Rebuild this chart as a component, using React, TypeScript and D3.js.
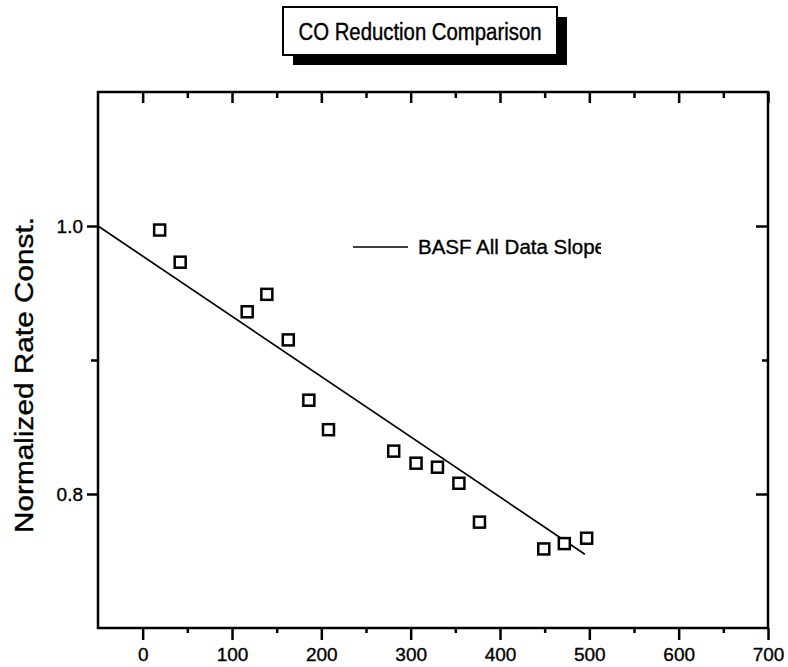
import React, { useEffect, useRef } from "react";
import * as d3 from "d3";

const xValues = [19, 42, 117, 139, 163, 186, 208, 281, 306, 330, 354, 377, 449, 472, 497];
const yValues = [0.997, 0.973, 0.936, 0.949, 0.915, 0.870, 0.848, 0.832, 0.823, 0.820, 0.808, 0.779, 0.759, 0.763, 0.767];
const fitX = [-50, 495];
const fitY = [1.0, 0.755];
const xMajorTicks = [0, 100, 200, 300, 400, 500, 600, 700];
const xMinorTicks = [50, 150, 250, 350, 450, 550, 650];
const yMajorTicks = [0.8, 1.0];
const yMinorTicks = [0.9];
const title = "CO Reduction Comparison";
const yTitle = "Normalized Rate Const.";
const legendLabel = "BASF All Data Slope";

const W = 788;
const H = 667;
const L = 98, R = 768, T = 92, B = 628;
const FONT = "'Liberation Sans', Arial, Helvetica, sans-serif";

export default function App() {
  const ref = useRef<SVGSVGElement | null>(null);

  useEffect(() => {
    const svg = d3.select(ref.current);
    svg.selectAll("*").remove();
    const x = d3.scaleLinear().domain([-50, 700]).range([L, R]);
    const y = d3.scaleLinear().domain([0.7, 1.1]).range([B, T]);

    // Title box with shadow
    svg.append("rect").attr("x", 293).attr("y", 17).attr("width", 274).attr("height", 48).attr("fill", "#000");
    svg.append("rect").attr("x", 283).attr("y", 7).attr("width", 274).attr("height", 48)
      .attr("fill", "#fff").attr("stroke", "#000").attr("stroke-width", 2);
    svg.append("text").attr("x", 420).attr("y", 40).attr("text-anchor", "middle")
      .attr("font-family", FONT).attr("font-size", 23)
      .attr("stroke", "#000").attr("stroke-width", 0.4)
      .attr("textLength", 243).attr("lengthAdjust", "spacingAndGlyphs")
      .text(title);

    const styleAxis = (g: any) => {
      g.select(".domain").remove();
      g.selectAll("line").attr("stroke", "#000").attr("stroke-width", 2.5);
      g.selectAll("text").attr("font-family", FONT).attr("font-size", 19).attr("fill", "#000")
        .attr("stroke", "#000").attr("stroke-width", 0.35);
    };

    // Bottom
    svg.append("g").attr("transform", `translate(0,${B})`)
      .call(d3.axisBottom(x).tickValues(xMajorTicks).tickSize(12).tickPadding(8).tickFormat(d3.format("d")))
      .call(styleAxis);
    svg.append("g").attr("transform", `translate(0,${B})`)
      .call(d3.axisBottom(x).tickValues(xMinorTicks).tickSize(5).tickFormat(() => ""))
      .call(styleAxis);
    // Top
    svg.append("g").attr("transform", `translate(0,${T})`)
      .call(d3.axisTop(x).tickValues(xMajorTicks).tickSize(-11).tickFormat(() => ""))
      .call(styleAxis);
    svg.append("g").attr("transform", `translate(0,${T})`)
      .call(d3.axisTop(x).tickValues(xMinorTicks).tickSize(-6).tickFormat(() => ""))
      .call(styleAxis);
    // Left
    svg.append("g").attr("transform", `translate(${L},0)`)
      .call(d3.axisLeft(y).tickValues(yMajorTicks).tickSize(11).tickPadding(4).tickFormat(d3.format(".1f")))
      .call(styleAxis);
    svg.append("g").attr("transform", `translate(${L},0)`)
      .call(d3.axisLeft(y).tickValues(yMinorTicks).tickSize(7).tickFormat(() => ""))
      .call(styleAxis);
    // Right
    svg.append("g").attr("transform", `translate(${R},0)`)
      .call(d3.axisRight(y).tickValues(yMajorTicks).tickSize(-12).tickFormat(() => ""))
      .call(styleAxis);
    svg.append("g").attr("transform", `translate(${R},0)`)
      .call(d3.axisRight(y).tickValues(yMinorTicks).tickSize(-6).tickFormat(() => ""))
      .call(styleAxis);

    // Frame
    svg.append("rect").attr("x", L).attr("y", T).attr("width", R - L).attr("height", B - T)
      .attr("fill", "none").attr("stroke", "#000").attr("stroke-width", 2.5);

    // Fit line
    const line = d3.line<number>().x((d) => x(d)).y((_, i) => y(fitY[i]));
    svg.append("path").datum(fitX).attr("d", line).attr("fill", "none")
      .attr("stroke", "#000").attr("stroke-width", 1.7);

    // Points
    const s = 11;
    svg.append("g").selectAll("rect").data(xValues).join("rect")
      .attr("x", (d) => x(d) - s / 2)
      .attr("y", (_, i) => y(yValues[i]) - s / 2)
      .attr("width", s).attr("height", s)
      .attr("fill", "#fff").attr("stroke", "#000").attr("stroke-width", 2.5);

    // Legend
    svg.append("line").attr("x1", 353).attr("x2", 408).attr("y1", 247).attr("y2", 247)
      .attr("stroke", "#000").attr("stroke-width", 1.7);
    const defs = svg.append("defs");
    defs.append("clipPath").attr("id", "legclip").append("rect")
      .attr("x", 410).attr("y", 220).attr("width", 191).attr("height", 50);
    svg.append("text").attr("x", 418).attr("y", 254).attr("clip-path", "url(#legclip)")
      .attr("font-family", FONT).attr("font-size", 20.5)
      .attr("stroke", "#000").attr("stroke-width", 0.35)
      .text(legendLabel);

    // Y title
    svg.append("text").attr("transform", `translate(33,375) rotate(-90)`)
      .attr("text-anchor", "middle").attr("font-family", FONT).attr("font-size", 25)
      .attr("stroke", "#000").attr("stroke-width", 0.35)
      .attr("textLength", 316).attr("lengthAdjust", "spacingAndGlyphs")
      .text(yTitle);
  }, []);

  return (
    <svg ref={ref} width={W} height={H}
      style={{ position: "absolute", left: 0, top: 0, background: "#fff" }} />
  );
}
